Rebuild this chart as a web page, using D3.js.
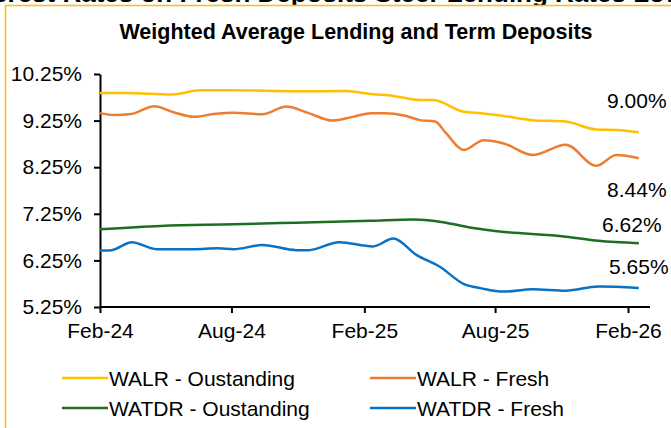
<!DOCTYPE html>
<html>
  <head>
    <meta charset="utf-8">
    <title>Weighted Average Lending and Term Deposits</title>
    <style>
      body { margin: 0; background: white; }
      text { font-family: "Liberation Sans", Arial, sans-serif; }
    </style>
  </head>
  <body>
    <div id="chart"></div>
    <script src="https://cdn.jsdelivr.net/npm/d3@7"></script>
    <script>

    //--------------------------------------------------------- Data

    var seriesNames = ["WALR - Oustanding", "WALR - Fresh", "WATDR - Oustanding", "WATDR - Fresh"];

    var walrOutstanding = [
      ["2024-02-01", 9.84], ["2024-03-09", 9.84], ["2024-05-09", 9.81], ["2024-06-19", 9.90],
      ["2024-08-04", 9.90], ["2024-10-30", 9.88], ["2025-01-07", 9.885], ["2025-02-10", 9.82],
      ["2025-03-13", 9.78], ["2025-04-19", 9.69], ["2025-05-07", 9.69], ["2025-06-19", 9.44],
      ["2025-07-13", 9.41], ["2025-08-13", 9.35], ["2025-09-22", 9.26], ["2025-11-07", 9.23],
      ["2025-12-19", 9.06], ["2026-01-16", 9.05], ["2026-02-16", 9.00]
    ];

    var walrFresh = [
      ["2024-02-01", 9.41], ["2024-02-21", 9.37], ["2024-03-15", 9.39], ["2024-04-16", 9.56],
      ["2024-05-13", 9.43], ["2024-06-10", 9.33], ["2024-07-07", 9.39], ["2024-08-04", 9.42],
      ["2024-09-13", 9.385], ["2024-10-16", 9.55], ["2024-11-16", 9.41], ["2024-12-19", 9.25],
      ["2025-01-16", 9.33], ["2025-02-10", 9.41], ["2025-03-01", 9.41], ["2025-03-28", 9.36],
      ["2025-04-19", 9.26], ["2025-05-10", 9.23], ["2025-05-25", 8.98], ["2025-06-19", 8.62],
      ["2025-07-16", 8.83], ["2025-08-13", 8.76], ["2025-09-22", 8.51], ["2025-11-07", 8.73],
      ["2025-12-19", 8.28], ["2026-01-16", 8.51], ["2026-02-16", 8.44]
    ];

    var watdrOutstanding = [
      ["2024-02-01", 6.92], ["2024-04-25", 6.99], ["2024-08-04", 7.025], ["2024-10-30", 7.06],
      ["2025-02-10", 7.10], ["2025-04-10", 7.13], ["2025-05-25", 7.06], ["2025-06-25", 6.96],
      ["2025-08-01", 6.88], ["2025-11-07", 6.76], ["2025-12-22", 6.67], ["2026-02-16", 6.62]
    ];

    var watdrFresh = [
      ["2024-02-01", 6.46], ["2024-02-17", 6.47], ["2024-03-16", 6.64], ["2024-04-19", 6.49],
      ["2024-06-10", 6.49], ["2024-07-13", 6.51], ["2024-08-04", 6.49], ["2024-09-13", 6.58],
      ["2024-10-30", 6.47], ["2024-11-16", 6.47], ["2024-12-28", 6.64], ["2025-02-13", 6.55],
      ["2025-03-13", 6.72], ["2025-04-14", 6.37], ["2025-05-16", 6.12], ["2025-06-19", 5.74],
      ["2025-07-13", 5.65], ["2025-08-13", 5.58], ["2025-09-22", 5.63], ["2025-11-07", 5.60],
      ["2025-12-22", 5.69], ["2026-02-16", 5.66]
    ];

    var endLabels = ["9.00%", "8.44%", "6.62%", "5.65%"];

    var xTickDates = ["2024-02-01", "2024-08-01", "2025-02-01", "2025-08-01", "2026-02-01"];
    var yTickValues = [5.25, 6.25, 7.25, 8.25, 9.25, 10.25];

    //--------------------------------------------------------- Setup

    var width = 671, height = 428;
    var colors = ["#FFC000", "#ED7D31", "#1E6E22", "#0A72C4"];
    var labelOffsets = [[-2, -24], [-2, 39], [-7, -11], [0, -14]];

    var parse = d3.timeParse("%Y-%m-%d");
    var allSeries = [walrOutstanding, walrFresh, watdrOutstanding, watdrFresh].map(function(s) {
      return s.map(function(d) { return {date: parse(d[0]), value: d[1]}; });
    });

    var svg = d3.select("#chart").append("svg")
        .attr("width", width)
        .attr("height", height);

    // heading of the page above, only its lowest pixels show
    svg.append("text")
        .attr("x", width / 2)
        .attr("y", 1.5)
        .attr("text-anchor", "middle")
        .style("font-size", "26px")
        .style("font-weight", "bold")
        .text("Interest Rates on Fresh Deposits Steer Lending Rates Lower");

    // outer frame
    svg.append("rect")
        .attr("x", 5.5)
        .attr("y", 5.5)
        .attr("width", width + 10)
        .attr("height", height + 10)
        .attr("fill", "white")
        .attr("stroke", "#FFC000")
        .attr("stroke-width", 1.5);

    svg.append("text")
        .attr("x", 356)
        .attr("y", 39)
        .attr("text-anchor", "middle")
        .style("font-size", "21.5px")
        .style("font-weight", "bold")
        .text("Weighted Average Lending and Term Deposits");

    var margin = {top: 74, left: 100};
    var plotW = 528, plotH = 233;

    var g = svg.append("g")
        .attr("transform", "translate(" + margin.left + "," + margin.top + ")");

    var x = d3.scaleTime()
        .domain([parse(xTickDates[0]), parse(xTickDates[xTickDates.length - 1])])
        .range([0, plotW]);

    var y = d3.scaleLinear()
        .domain([5.25, 10.25])
        .range([plotH, 0]);

    //--------------------------------------------------------- Axes

    var yAxis = g.append("g")
        .call(d3.axisLeft(y)
          .tickValues(yTickValues)
          .tickSize(6)
          .tickSizeOuter(0)
          .tickPadding(12)
          .tickFormat(function(d) { return d3.format(".2f")(d) + "%"; }));

    var xAxis = g.append("g")
        .attr("transform", "translate(0," + plotH + ")")
        .call(d3.axisBottom(x)
          .tickValues(xTickDates.map(parse))
          .tickSize(6)
          .tickSizeOuter(0)
          .tickPadding(10)
          .tickFormat(d3.timeFormat("%b-%y")));

    // x axis line runs a bit past the last tick
    xAxis.select(".domain").remove();
    xAxis.append("line")
        .attr("x1", 0)
        .attr("x2", plotW + 22)
        .attr("stroke", "black")
        .attr("stroke-width", 2);

    g.selectAll(".domain").attr("stroke-width", 2);
    g.selectAll(".tick line").attr("stroke-width", 2);
    g.selectAll(".tick text")
        .style("font-size", "21px")
        .style("font-family", "'Liberation Sans', Arial, sans-serif")
        .attr("fill", "black");

    //--------------------------------------------------------- Lines

    var line = d3.line()
        .x(function(d) { return x(d.date); })
        .y(function(d) { return y(d.value); })
        .curve(d3.curveMonotoneX);

    g.selectAll(".series")
        .data(allSeries)
        .enter().append("path")
        .attr("class", "series")
        .attr("fill", "none")
        .attr("stroke", function(d, i) { return colors[i]; })
        .attr("stroke-width", 2.5)
        .attr("stroke-linejoin", "round")
        .attr("d", line);

    // last value labels
    g.selectAll(".endlabel")
        .data(allSeries)
        .enter().append("text")
        .attr("class", "endlabel")
        .attr("x", function(d, i) { return x(d[d.length - 1].date) + labelOffsets[i][0]; })
        .attr("y", function(d, i) { return y(d[d.length - 1].value) + labelOffsets[i][1]; })
        .attr("text-anchor", "middle")
        .style("font-size", "21px")
        .text(function(d, i) { return endLabels[i]; });

    //--------------------------------------------------------- Legend

    var legend = svg.append("g")
        .attr("transform", "translate(62,378)");

    var items = legend.selectAll(".item")
        .data(seriesNames)
        .enter().append("g")
        .attr("class", "item")
        .attr("transform", function(d, i) {
          return "translate(" + (i % 2) * 308 + "," + Math.floor(i / 2) * 30 + ")";
        });

    items.append("line")
        .attr("x1", 0)
        .attr("x2", 46)
        .attr("stroke", function(d, i) { return colors[i]; })
        .attr("stroke-width", 2.5);

    items.append("text")
        .attr("x", 47)
        .attr("y", 7.5)
        .style("font-size", "21px")
        .text(function(d) { return d; });

    </script>
  </body>
</html>
